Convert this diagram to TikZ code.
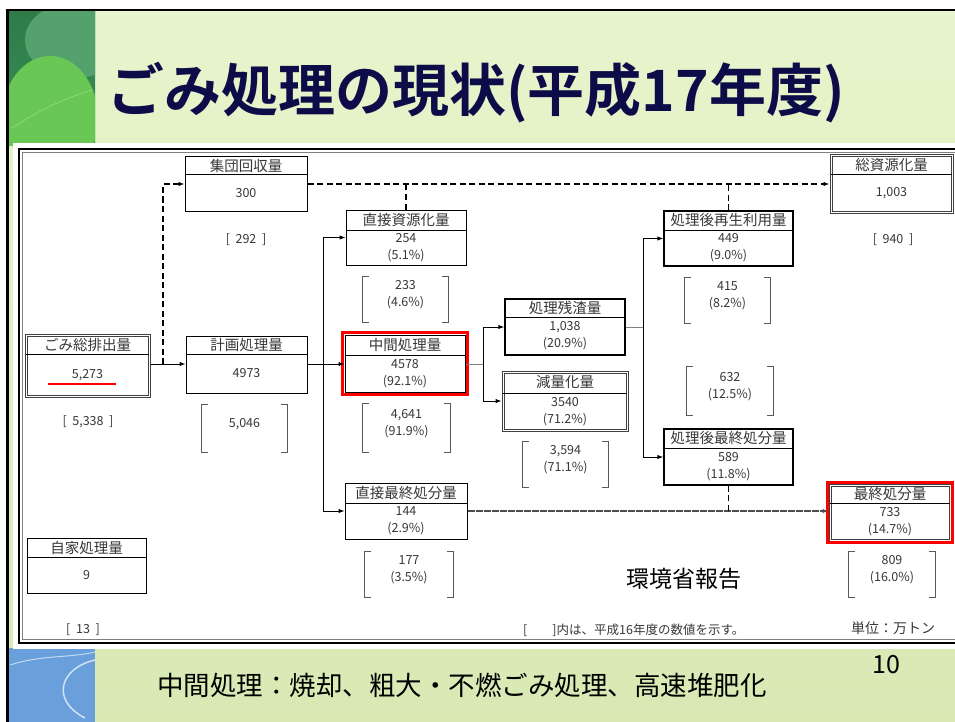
\documentclass[tikz,border=0pt]{standalone}
\usepackage{fontspec}
\setmainfont{Noto Sans CJK JP}
\newfontfamily\titlefont{Noto Sans CJK JP Bold}
\usetikzlibrary{arrows.meta,fit}

\definecolor{titleblue}{RGB}{12,12,72}
\definecolor{bgtop}{RGB}{232,244,204}
\definecolor{bgbot}{RGB}{216,233,180}
\definecolor{leafdark}{RGB}{55,145,85}
\definecolor{leaflight}{RGB}{105,200,85}
\definecolor{water}{RGB}{105,160,220}
\definecolor{boxtext}{RGB}{55,55,55}

\tikzset{
  box/.style={draw, line width=1pt, inner sep=0pt, fill=white},
  dbl/.style={line width=3pt, draw=black!75, postaction={draw=white, line width=1pt}},
  hdr/.style={font=\fontsize{14.5}{16}\selectfont, text=boxtext, inner sep=0pt},
  val/.style={font=\fontsize{12.5}{17}\selectfont, text=boxtext, align=center, inner sep=0pt},
  brk/.style={font=\fontsize{12.5}{17}\selectfont, text=boxtext, align=center, inner sep=0pt},
  brkline/.style={line width=1pt, gray!70!black},
  arr/.style={line width=1pt, -{Latex[length=6pt,width=4.5pt]}},
  darr/.style={line width=1.6pt, dash pattern=on 6pt off 3.5pt, -{Latex[length=6pt,width=4.5pt]}},
  dline/.style={line width=1.6pt, dash pattern=on 6pt off 3.5pt},
  thinline/.style={line width=0.7pt, gray},
  redframe/.style={draw=red, line width=2.5pt, inner sep=2pt},
}

% box with a header row: [style] name, x1, y1, x2, y2, divider y, header, body
\newcommand{\flowbox}[9][]{%
  \path (#3,#4) coordinate (#2-nw) (#5,#6) coordinate (#2-se);
  \node[box,#1,fit=(#2-nw)(#2-se)] (#2) {};
  \draw[line width=1pt] (#3,#7) -- (#5,#7);
  \node[hdr] (#2-h) at ({(#3+#5)/2},{(#4+#7)/2}) {#8};
  \node[val] (#2-v) at ({(#3+#5)/2},{(#7+#6)/2}) {#9};
}
% previous year figures between large brackets: name, x1, y1, x2, y2, text
\newcommand{\prevbox}[6]{%
  \path (#2,#3) coordinate (#1-nw) (#4,#5) coordinate (#1-se);
  \node[brk,fit=(#1-nw)(#1-se)] (#1) {#6};
  \draw[brkline] ([xshift=6pt]#1.north west) -- (#1.north west) -- (#1.south west) -- ([xshift=6pt]#1.south west);
  \draw[brkline] ([xshift=-6pt]#1.north east) -- (#1.north east) -- (#1.south east) -- ([xshift=-6pt]#1.south east);
}

\begin{document}
\begin{tikzpicture}[x=1pt,y=-1pt]
  \useasboundingbox (0,0) rectangle (955,722);

  % Fond de la diapositive
  \fill[white] (0,0) rectangle (955,722);
  \shade[top color=bgtop, bottom color=bgbot] (7,10) rectangle (955,722);
  \begin{scope}
    \clip (9,11) rectangle (95,146);
    \shade[top color=leafdark!85!black, bottom color=leafdark] (9,11) rectangle (95,146);
    \fill[leafdark!85!white] (75,40) ellipse (50 and 38);
    \fill[leaflight] (50,118) ellipse (48 and 62);
    \draw[leaflight!75!white, line width=0.8pt] (12,128) .. controls (40,110) and (60,100) .. (92,90);
  \end{scope}
  \begin{scope}
    \clip (9,648) rectangle (95,722);
    \fill[water] (9,648) rectangle (95,722);
    \draw[white!70!water, line width=1.5pt] (95,660) .. controls (60,668) and (50,700) .. (85,718);
    \draw[white!60!water, line width=1pt] (10,665) .. controls (40,655) and (70,658) .. (95,652);
  \end{scope}
  \draw[line width=2.5pt] (7.5,740) -- (7.5,10) -- (970,10);

  % Titre
  \node[font=\titlefont\fontsize{57}{60}\selectfont, text=titleblue, anchor=west, inner sep=0pt]
    (title) at (107,93) {ごみ処理の現状(平成17年度)};

  % Cadre blanc du schema
  \fill[white] (13,143) rectangle (965,649);
  \draw[line width=1.6pt] (19,149) rectangle (965,643);
  \draw[line width=0.6pt, gray] (22.5,152.5) rectangle (965,639.5);

  % Boites
  \flowbox{shudan}{185}{157}{307}{211}{175}{集団回収量}{300}
  \flowbox[dbl]{sohai}{26}{335}{149}{396}{354}{ごみ総排出量}{5,273}
  \flowbox{keikaku}{186}{336}{307}{393}{354}{計画処理量}{4973}
  \flowbox{chokushi}{346}{210}{466}{265}{230}{直接資源化量}{254\\(5.1\%)}
  \flowbox{chukan}{345}{335}{465}{392}{355}{中間処理量}{4578\\(92.1\%)}
  \flowbox{chokusai}{345}{483}{467}{539}{503}{直接最終処分量}{144\\(2.9\%)}
  \flowbox[line width=1.5pt]{zansa}{505}{299}{625}{355}{317}{処理残渣量}{1,038\\(20.9\%)}
  \flowbox[dbl]{genryo}{503}{372}{627}{430}{393}{減量化量}{3540\\(71.2\%)}
  \flowbox[line width=1.5pt]{saisei}{664}{211}{793}{266}{230}{処理後再生利用量}{449\\(9.0\%)}
  \flowbox[line width=1.5pt]{shobun}{664}{429}{793}{485}{448}{処理後最終処分量}{589\\(11.8\%)}
  \flowbox[dbl]{soshigen}{831}{156}{952}{212}{175}{総資源化量}{1,003}
  \flowbox[dbl]{saishu}{830}{485}{950}{540}{503}{最終処分量}{733\\(14.7\%)}
  \flowbox{jika}{27}{538}{146}{593}{557}{自家処理量}{9}

  % Mises en evidence en rouge
  \node[redframe, fit=(chukan)] (chukan-red) {};
  \node[redframe, fit=(saishu), inner sep=1pt] (saishu-red) {};
  \draw[red, line width=2.5pt] (48,384) -- (116,384);

  % Valeurs de l'annee precedente
  \node[brk] (p-shudan) at (246,240) {[\ \ 292\ \ ]};
  \node[brk] (p-sohai) at (88,422) {[\ \ 5,338\ \ ]};
  \node[brk] (p-soshigen) at (893,240) {[\ \ 940\ \ ]};
  \node[brk] (p-jika) at (83,630) {[\ \ 13\ \ ]};
  \prevbox{p-keikaku}{202}{405}{287}{452}{5,046}
  \prevbox{p-chokushi}{363}{277}{448}{322}{233\\(4.6\%)}
  \prevbox{p-chukan}{363}{404}{450}{452}{4,641\\(91.9\%)}
  \prevbox{p-chokusai}{365}{552}{453}{597}{177\\(3.5\%)}
  \prevbox{p-genryo}{523}{442}{608}{487}{3,594\\(71.1\%)}
  \prevbox{p-saisei}{685}{278}{770}{323}{415\\(8.2\%)}
  \prevbox{p-zanmid}{687}{367}{773}{415}{632\\(12.5\%)}
  \prevbox{p-saishu}{849}{552}{935}{597}{809\\(16.0\%)}

  % Points de jonction
  \coordinate (j0) at (163,364);
  \coordinate (jL) at (323,364);
  \coordinate (jM) at (483,364);
  \coordinate (jR) at (643,327);

  % Flux
  \draw[arr] (sohai.east |- j0) -- (keikaku.west |- j0);
  \draw[darr] (j0) |- (shudan.west);
  \draw[darr] (shudan.east) -- (soshigen.west);
  \draw[dline] (chokushi.north) -- (chokushi.north |- shudan.east);
  \draw[dline] (saisei.north) -- (saisei.north |- shudan.east);
  \draw[arr] (keikaku.east |- j0) -- (chukan.west |- j0);
  \draw[arr] (jL) |- (chokushi.west);
  \draw[arr] (jL) |- (chokusai.west);
  \draw[thinline] (chukan.east |- jM) -- (jM);
  \draw[arr] (jM) |- (zansa.west);
  \draw[arr] (jM) |- (genryo.west);
  \draw[thinline] (zansa.east |- jR) -- (jR);
  \draw[arr] (jR) |- (saisei.west);
  \draw[arr] (jR) |- (shobun.west);
  \draw[line width=1.8pt, gray!60!black, dash pattern=on 7pt off 1pt, -{Latex[length=6pt,width=4.5pt]}]
    (chokusai.east) -- (saishu.west |- chokusai.east);
  \draw[dline] (shobun.south) -- (shobun.south |- chokusai.east);

  % Textes
  \node[font=\fontsize{23}{26}\selectfont] (source) at (684,579) {環境省報告};
  \node[font=\fontsize{12.5}{14}\selectfont, text=boxtext, anchor=west, inner sep=0pt]
    (legend) at (523,630) {[\hspace{25pt}]内は、平成16年度の数値を示す。};
  \node[font=\fontsize{14}{16}\selectfont, text=boxtext] (unit) at (893,628) {単位：万トン};
  \node[font=\fontsize{25}{28}\selectfont] (pageno) at (886,665) {10};
  \node[font=\fontsize{26.5}{30}\selectfont] (note) at (462,685) {中間処理：焼却、粗大・不燃ごみ処理、高速堆肥化};
\end{tikzpicture}
\end{document}
